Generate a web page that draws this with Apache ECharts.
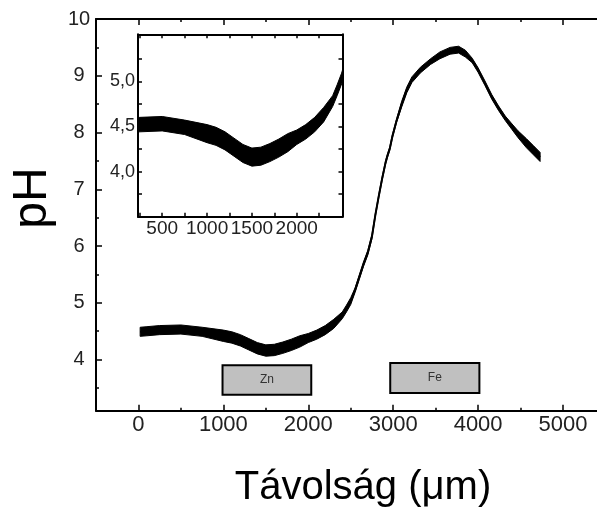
<!DOCTYPE html>
<html><head><meta charset="utf-8">
<script src="https://cdn.jsdelivr.net/npm/echarts@6/dist/echarts.min.js"></script>
<style>html,body{margin:0;padding:0;background:#fff}#c{width:597px;height:510px}</style>
</head><body><div id="c"></div>
<script>
// ---- data ----
const distanceUm = [20,100,250,500,750,1000,1100,1200,1300,1400,1500,1600,1700,1800,1900,2000,2100,2200,2300,2400,2450,2500,2550,2600,2650,2700,2750,2790,2830,2870,2910,2930,2960,2990,3040,3100,3160,3220,3320,3440,3550,3670,3770,3850,3930,4000,4080,4160,4240,4320,4400,4470,4570,4650,4730];
const pHMid = [4.49,4.50,4.52,4.53,4.49,4.42,4.39,4.34,4.27,4.20,4.16,4.17,4.21,4.26,4.32,4.38,4.44,4.52,4.63,4.78,4.90,5.03,5.22,5.45,5.68,5.88,6.17,6.55,6.88,7.19,7.47,7.58,7.72,7.93,8.21,8.50,8.75,8.93,9.10,9.25,9.36,9.44,9.46,9.39,9.27,9.10,8.87,8.63,8.43,8.25,8.10,7.97,7.81,7.69,7.57];
const pHSpread = [0.08,0.08,0.08,0.08,0.08,0.10,0.10,0.10,0.10,0.10,0.10,0.10,0.10,0.10,0.10,0.08,0.08,0.08,0.08,0.06,0.06,0.06,0.04,0.04,0.04,0.04,0.04,0.03,0.03,0.03,0.03,0.03,0.03,0.03,0.03,0.05,0.05,0.05,0.05,0.05,0.06,0.06,0.06,0.06,0.04,0.04,0.04,0.04,0.04,0.04,0.05,0.06,0.08,0.08,0.08];

const mainXLabels = [0,1000,2000,3000,4000,5000];
const mainXMinor = [500,1500,2500,3500,4500];
const mainYLabels = [4,5,6,7,8,9,10];
const mainYMinor = [3.5,4.5,5.5,6.5,7.5,8.5,9.5];
const insetXLabels = [500,1000,1500,2000];
const insetXTicks = [250,500,750,1000,1250,1500,1750,2000,2250];
const insetYLabels = [4.0,4.5,5.0];
const insetYTicks = [3.75,4.0,4.25,4.5,4.75,5.0,5.25];

const zoneNames = ['Zn','Fe'];
const zoneFrom = [990,2965];
const zoneTo = [2035,4015];
const zoneLow = [3.38,3.41];
const zoneHigh = [3.90,3.94];

const xTitle = 'Távolság (μm)';
const yTitle = 'pH';

// ---- chart ----
const FONT = "'Liberation Sans', Arial, sans-serif";
const chart = echarts.init(document.getElementById('c'), null, {renderer:'canvas'});
const pairs = distanceUm.map((d,i)=>[d,pHMid[i]]);

function bandItem(params, api){
  if (params.dataIndex !== 0) return null;
  const up = [], lo = [];
  for (let i=0;i<distanceUm.length;i++){
    up.push(api.coord([distanceUm[i], pHMid[i]+pHSpread[i]]));
    lo.push(api.coord([distanceUm[i], pHMid[i]-pHSpread[i]]));
  }
  const cs = params.coordSys;
  return {
    type:'group',
    clipPath:{type:'rect', shape:{x:cs.x, y:cs.y, width:cs.width, height:cs.height}},
    children:[{type:'polygon', shape:{points: up.concat(lo.reverse())}, style:{fill:'#000', stroke:'#000', lineWidth:1}}]
  };
}

const axisLine = {show:true, onZero:false, lineStyle:{color:'#000', width:2}};
const noLine = {show:false, onZero:false};
const plain = v => String(v);
const lbl = (vals, size, margin, extra) => Object.assign({show:true, customValues:vals, color:'#222', fontFamily:FONT, fontSize:size, margin:margin, formatter:plain}, extra||{});
const tick = (vals, len) => ({show:true, inside:true, length:len, customValues:vals, lineStyle:{color:'#000', width:1.5}});
const none = {show:false};

const mainX = {min:-500, max:5400, gridIndex:0, type:'value', splitLine:none};
const insetX = {min:230, max:2510, gridIndex:1, type:'value', splitLine:none};
const mainY = {min:3.1, max:10, gridIndex:0, type:'value', splitLine:none};
const insetY = {min:3.5, max:5.52, gridIndex:1, type:'value', splitLine:none};

chart.setOption({
  animation:false,
  backgroundColor:'#fff',
  grid:[
    {left:96, top:19, width:501, height:391.7},
    {left:138, top:34.3, width:204.5, height:182.4, show:true, backgroundColor:'#fff', borderWidth:0}
  ],
  xAxis:[
    Object.assign({}, mainX, {position:'bottom', axisLine:axisLine, axisTick:tick(mainXLabels,6), axisLabel:lbl(mainXLabels,22,3)}),
    Object.assign({}, mainX, {position:'bottom', axisLine:noLine, axisTick:tick(mainXMinor,3), axisLabel:none}),
    Object.assign({}, mainX, {position:'top', axisLine:axisLine, axisTick:tick(mainXLabels,6), axisLabel:none}),
    Object.assign({}, mainX, {position:'top', axisLine:noLine, axisTick:tick(mainXMinor,3), axisLabel:none}),
    Object.assign({}, insetX, {position:'bottom', axisLine:axisLine, axisTick:tick(insetXTicks,4), axisLabel:lbl(insetXLabels,19,3)}),
    Object.assign({}, insetX, {position:'top', axisLine:axisLine, axisTick:tick(insetXTicks,4), axisLabel:none})
  ],
  yAxis:[
    Object.assign({}, mainY, {position:'left', axisLine:axisLine, axisTick:tick(mainYLabels,6), axisLabel:lbl(mainYLabels,20,17,{align:'center'})}),
    Object.assign({}, mainY, {position:'left', axisLine:noLine, axisTick:tick(mainYMinor,3), axisLabel:none}),
    Object.assign({}, insetY, {position:'left', axisLine:axisLine, axisTick:tick(insetYTicks,4), axisLabel:lbl(insetYLabels,18,3,{formatter:v=>v.toFixed(1).replace('.',',')})}),
    Object.assign({}, insetY, {position:'right', axisLine:axisLine, axisTick:tick(insetYTicks,4), axisLabel:none})
  ],
  series:[
    {type:'custom', xAxisIndex:0, yAxisIndex:0, renderItem:bandItem, data:[pairs[0]], silent:true, z:2},
    {type:'line', xAxisIndex:0, yAxisIndex:0, data:pairs, symbol:'none', lineStyle:{color:'#000', width:2}, z:3, silent:true,
      markArea:{silent:true,
        itemStyle:{color:'#c0c0c0', borderColor:'#000', borderWidth:2},
        label:{show:true, position:'inside', color:'#333', fontFamily:FONT, fontSize:12},
        data: zoneNames.map((n,i)=>[{name:n, xAxis:zoneFrom[i], yAxis:zoneLow[i]},{xAxis:zoneTo[i], yAxis:zoneHigh[i]}])
      }},
    {type:'custom', xAxisIndex:4, yAxisIndex:2, renderItem:bandItem, data:[pairs[0]], silent:true, clip:true, z:4},
    {type:'line', xAxisIndex:4, yAxisIndex:2, data:pairs, symbol:'none', lineStyle:{color:'#000', width:2}, clip:true, z:5, silent:true}
  ],
  graphic:[
    {type:'text', x:363, y:488, style:{text:xTitle, font:"40px 'Liberation Sans', Arial, sans-serif", fill:'#000', align:'center', verticalAlign:'middle'}},
    {type:'text', x:33, y:198, rotation:Math.PI/2, style:{text:yTitle, font:"48px 'Liberation Sans', Arial, sans-serif", fill:'#000', align:'center', verticalAlign:'middle'}}
  ]
});
</script></body></html>
